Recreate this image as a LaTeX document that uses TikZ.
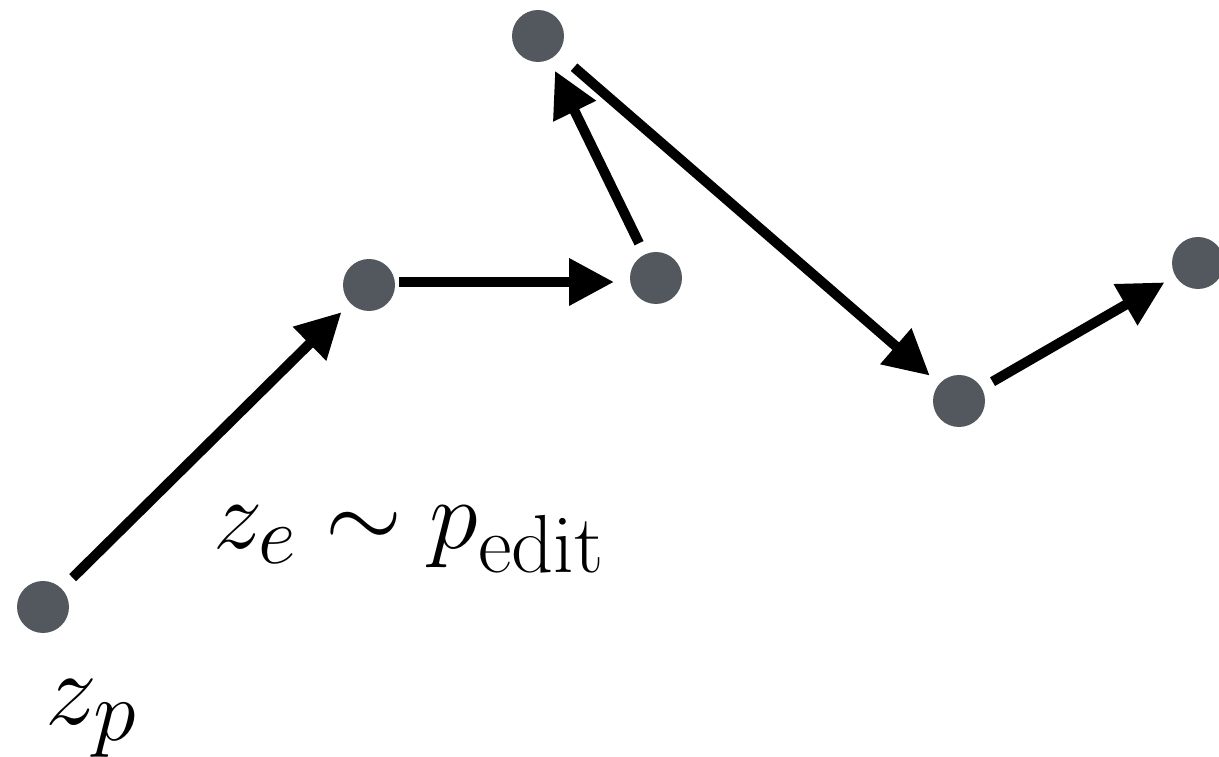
\documentclass[tikz,border=0pt]{standalone}
\usepackage{tikz}
\usetikzlibrary{arrows.meta}
\definecolor{ptgray}{RGB}{83,88,95}
\tikzset{
  >={Triangle[length=4.5mm,width=4.5mm]},
  pt/.style={circle,fill=ptgray,minimum size=5.2mm,inner sep=0pt},
  mv/.style={->,line width=1mm,shorten <=1.2mm,shorten >=1.2mm},
  lbl/.style={anchor=base west,inner sep=0pt,font=\Huge,scale=1.13},
}

\begin{document}
\begin{tikzpicture}
\useasboundingbox (0,0) rectangle (12.19,7.57);
\node[pt] (p) at (0.43,1.50){}; \node[pt] (a) at (3.69,4.72){}; \node[pt] (b) at (6.56,4.79){};
\node[pt] (c) at (5.38,7.21){}; \node[pt] (d) at (9.59,3.56){}; \node[pt] (e) at (11.98,4.94){};
\coordinate (a0) at (3.99,4.75); \coordinate (b0) at (6.14,4.75);
\draw[mv,shorten <=1.5mm] (p)--(a); \draw[mv,shorten <=0mm,shorten >=0mm] (a0)--(b0);
\draw[mv] (b)--(c); \draw[mv,shorten <=2.1mm] (c)--(d); \draw[mv] (d)--(e);
\node[lbl] (ze) at (2.13,2.08){$z_e \sim p_{\mathrm{edit}}$};
\node[lbl,scale=1.05] (zp) at (0.45,0.32){$z_p$};
\end{tikzpicture}
\end{document}
